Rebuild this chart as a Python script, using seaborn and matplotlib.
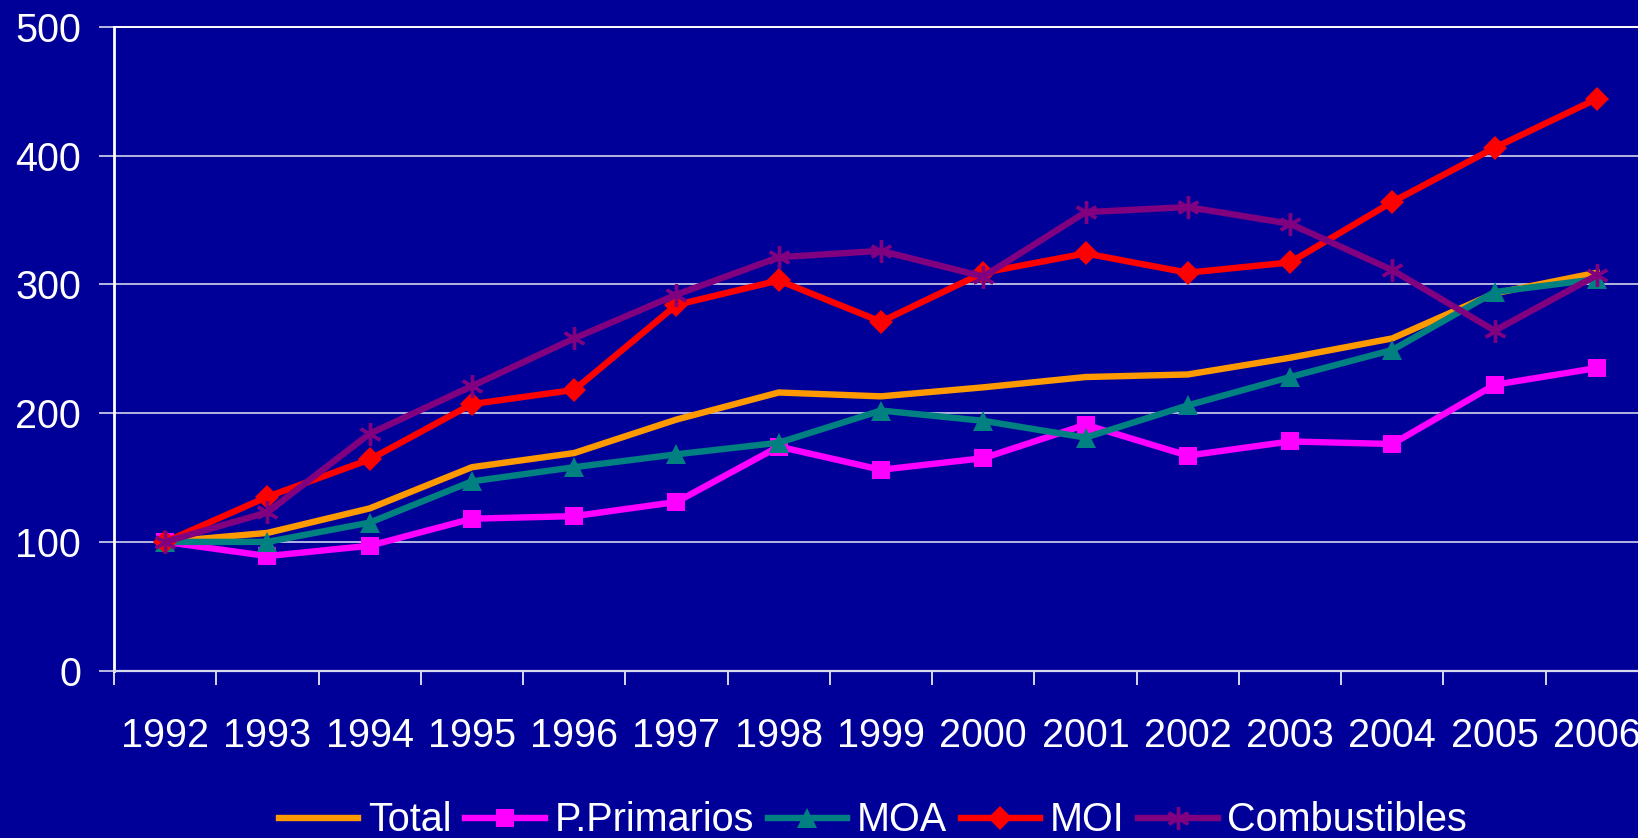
import matplotlib
matplotlib.use("Agg")
import matplotlib.pyplot as plt
import seaborn as sns
import numpy as np

years = ["1992", "1993", "1994", "1995", "1996", "1997", "1998", "1999",
         "2000", "2001", "2002", "2003", "2004", "2005", "2006"]
total = [100, 107, 126, 158, 169, 195, 216, 213, 220, 228, 230, 243, 258, 293, 309]
p_primarios = [100, 89, 97, 118, 120, 131, 174, 156, 165, 191, 167, 178, 176, 222, 235]
moa = [100, 100, 115, 147, 158, 168, 177, 202, 194, 181, 206, 228, 249, 294, 304]
moi = [100, 135, 164, 207, 218, 284, 303, 271, 309, 324, 309, 317, 364, 406, 444]
combustibles = [100, 123, 184, 221, 258, 292, 321, 326, 306, 356, 360, 347, 311, 264, 307]

series = [
    ("Total", total, "#FF9900", None),
    ("P.Primarios", p_primarios, "#FF00FF", "s"),
    ("MOA", moa, "#008080", "^"),
    ("MOI", moi, "#FF0000", "D"),
    ("Combustibles", combustibles, "#800080", (6, 2, 0)),
]

bg = "#000099"
plt.rcParams["font.family"] = ["Liberation Sans", "DejaVu Sans"]

fig = plt.figure(figsize=(16.38, 8.38), dpi=100, facecolor=bg)
ax = fig.add_axes([114 / 1638, 1 - 670.7 / 838, 1534 / 1638, 644 / 838])
ax.set_facecolor(bg)

x = np.arange(len(years))
for name, vals, color, marker in series:
    kw = dict(x=x, y=vals, color=color, linewidth=4.6, label=name, ax=ax)
    if marker == (6, 2, 0):
        kw.update(marker=marker, markersize=16, markeredgewidth=2.4,
                  markeredgecolor=color)
    elif marker == "D":
        kw.update(marker=marker, markersize=12.5, markeredgewidth=0)
    elif marker == "^":
        kw.update(marker=marker, markersize=15, markeredgewidth=0)
    elif marker == "s":
        kw.update(marker=marker, markersize=13, markeredgewidth=0)
    sns.lineplot(**kw)

ax.set_xlim(-0.5, len(years) - 0.5)
ax.set_ylim(0, 500)
ax.set_yticks(range(0, 501, 100))
ax.set_xticks(x)
ax.set_xticklabels(years)
ax.set_xticks(np.arange(-0.5, len(years), 1), minor=True)
ax.tick_params(axis="x", which="major", length=0, pad=33, labelsize=28.5, colors="white")
ax.tick_params(axis="x", which="minor", length=10, width=1.4, color="#D8D8F0", direction="out")
ax.tick_params(axis="y", length=10.8, width=1.2, pad=13, labelsize=28.5,
               colors="white", color="#D8D8F0")
ax.grid(axis="y", color="#E6E6F5", linewidth=1.1)
ax.set_axisbelow(True)
ax.set_xlabel("")
ax.set_ylabel("")

for side in ["left", "bottom", "top"]:
    ax.spines[side].set_color("white")
ax.spines["left"].set_linewidth(2)
ax.spines["bottom"].set_linewidth(1.6)
ax.spines["bottom"].set_color("#D8D8F0")
ax.spines["top"].set_linewidth(1.4)
ax.spines["right"].set_visible(False)

handles, labels = ax.get_legend_handles_labels()
if ax.get_legend() is not None:
    ax.get_legend().remove()
leg = fig.legend(handles, labels, loc="center", bbox_to_anchor=(0.533, 0.021), ncol=5,
                 frameon=False, fontsize=28.5, handlelength=2.0, handletextpad=0.25,
                 columnspacing=0.35, labelcolor="white")

fig.savefig("out.png", dpi=100, facecolor=bg)
